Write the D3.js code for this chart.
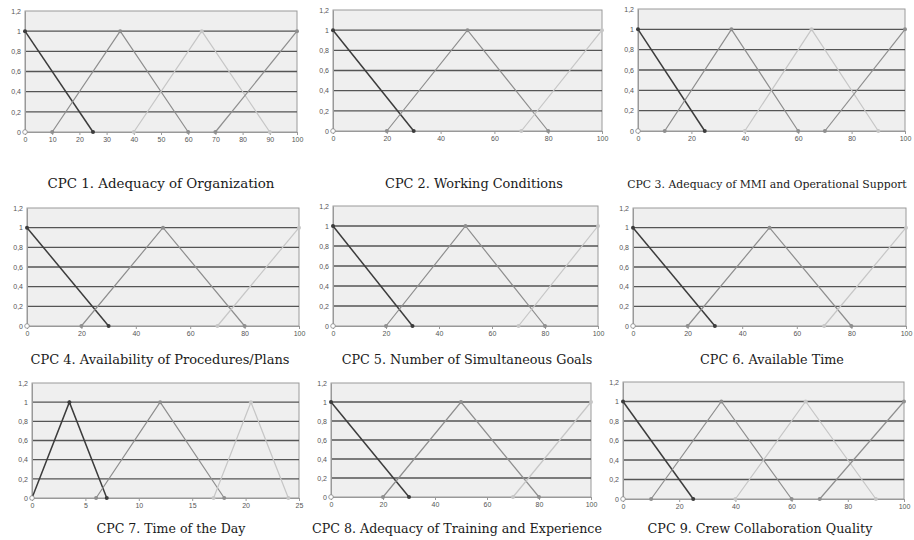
<!DOCTYPE html>
<html>
<head>
<meta charset="utf-8">
<script src="https://cdn.jsdelivr.net/npm/d3@7"></script>
<style>
  html, body { margin: 0; padding: 0; background: #fff; }
  svg { display: block; }
</style>
</head>
<body>
<svg id="chart" width="914" height="540"></svg>
<script>
// ---------------- DATA ----------------
const titles = [
  "CPC 1. Adequacy of Organization",
  "CPC 2. Working Conditions",
  "CPC 3. Adequacy of MMI and Operational Support",
  "CPC 4. Availability of Procedures/Plans",
  "CPC 5. Number of Simultaneous Goals",
  "CPC 6. Available Time",
  "CPC 7. Time of the Day",
  "CPC 8. Adequacy of Training and Experience",
  "CPC 9. Crew Collaboration Quality"
];
// which membership-function set each CPC uses
const panelSet = ["four", "three", "four", "three", "three", "three", "time", "three", "four"];
const xMaxValues = [100, 100, 100, 100, 100, 100, 25, 100, 100];
const xTickValues = {
  p1: [0, 10, 20, 30, 40, 50, 60, 70, 80, 90, 100],
  std: [0, 20, 40, 60, 80, 100],
  time: [0, 5, 10, 15, 20, 25]
};
const panelTicks = ["p1", "std", "std", "std", "std", "std", "time", "std", "std"];
const yTickValues = [0, 0.2, 0.4, 0.6, 0.8, 1, 1.2];

// four-level membership functions (CPC 1, 3, 9)
const fourLevelX = [[0, 25], [10, 35, 60], [40, 65, 90], [70, 100]];
const fourLevelY = [[1, 0], [0, 1, 0], [0, 1, 0], [0, 1]];
// three-level membership functions (CPC 2, 4, 5, 6, 8)
const threeLevelX = [[0, 30], [20, 50, 80], [70, 100]];
const threeLevelY = [[1, 0], [0, 1, 0], [0, 1]];
// time of the day (CPC 7)
const timeX = [[0, 3.5, 7], [6, 12, 18], [17, 20.5, 24]];
const timeY = [[0, 1, 0], [0, 1, 0], [0, 1, 0]];
// hollow origin marker
const originX = [0];
const originY = [0];

// ---------------- LAYOUT / STYLE ----------------
const layout = [
  {x0: 25,  x1: 297, y0: 11,  y1: 132},
  {x0: 333, x1: 602, y0: 10,  y1: 131},
  {x0: 638, x1: 905, y0: 9,   y1: 131},
  {x0: 27,  x1: 299, y0: 208, y1: 326},
  {x0: 333, x1: 598, y0: 206, y1: 326},
  {x0: 633, x1: 906, y0: 208, y1: 326},
  {x0: 32,  x1: 299, y0: 383, y1: 498},
  {x0: 331, x1: 591, y0: 383, y1: 497},
  {x0: 623, x1: 904, y0: 382, y1: 499}
];
const titlePos = [
  [161, 188], [474, 188], [767, 188],
  [160, 364], [467, 364], [772, 364],
  [171, 533], [457, 533], [760, 533]
];
const titleWidth = [227, 178, 280, 259, 251, 144, 149, 290, 225];
const setColors = {
  four:  ["#3c3c3c", "#8e8e8e", "#c6c6c6", "#8e8e8e"],
  three: ["#3c3c3c", "#8e8e8e", "#c6c6c6"],
  time:  ["#3c3c3c", "#8e8e8e", "#c6c6c6"]
};
const setData = {
  four:  [fourLevelX, fourLevelY],
  three: [threeLevelX, threeLevelY],
  time:  [timeX, timeY]
};

const svg = d3.select("#chart");
const fmt = v => String(+v.toFixed(1)).replace(".", ",");

titles.forEach((title, i) => {
  const L = layout[i];
  const x = d3.scaleLinear().domain([0, xMaxValues[i]]).range([L.x0, L.x1]);
  const y = d3.scaleLinear().domain([0, 1.2]).range([L.y1, L.y0]);
  const g = svg.append("g");

  // plot background
  g.append("rect")
    .attr("x", L.x0).attr("y", L.y0)
    .attr("width", L.x1 - L.x0).attr("height", L.y1 - L.y0)
    .attr("fill", "#efefef")
    .attr("stroke", "#9a9a9a").attr("stroke-width", 1);

  // horizontal grid lines
  g.selectAll(".grid").data(yTickValues.filter(v => v > 0 && v < 1.2)).enter()
    .append("line")
    .attr("x1", L.x0).attr("x2", L.x1)
    .attr("y1", d => y(d)).attr("y2", d => y(d))
    .attr("stroke", "#555").attr("stroke-width", 1.4);

  // y axis
  const yAxis = d3.axisLeft(y).tickValues(yTickValues).tickFormat(fmt).tickSize(0).tickPadding(4);
  const ya = g.append("g").attr("transform", `translate(${L.x0},0)`).call(yAxis);
  ya.select(".domain").attr("stroke", "#999");
  ya.selectAll("text").attr("font-family", "Liberation Sans, Arial, sans-serif")
    .attr("font-size", 7).attr("fill", "#555");

  // x axis
  const xAxis = d3.axisBottom(x).tickValues(xTickValues[panelTicks[i]]).tickSize(3).tickPadding(2);
  const xa = g.append("g").attr("transform", `translate(0,${L.y1})`).call(xAxis);
  xa.select(".domain").attr("stroke", "#999");
  xa.selectAll(".tick line").attr("stroke", "#999");
  xa.selectAll("text").attr("font-family", "Liberation Sans, Arial, sans-serif")
    .attr("font-size", 7).attr("fill", "#555");

  // membership functions
  const [sx, sy] = setData[panelSet[i]];
  const colors = setColors[panelSet[i]];
  const line = d3.line().x(d => x(d[0])).y(d => y(d[1]));
  sx.forEach((xs, k) => {
    const pts = xs.map((v, j) => [v, sy[k][j]]);
    g.append("path").datum(pts)
      .attr("d", line)
      .attr("fill", "none")
      .attr("stroke", colors[k])
      .attr("stroke-width", k === 0 ? 1.5 : 1.2);
    g.selectAll(null).data(pts).enter().append("circle")
      .attr("cx", d => x(d[0])).attr("cy", d => y(d[1]))
      .attr("r", 2)
      .attr("fill", colors[k]);
  });

  // hollow origin marker
  g.selectAll(null).data(originX.map((v, j) => [v, originY[j]])).enter()
    .append("circle")
    .attr("cx", d => x(d[0])).attr("cy", d => y(d[1]))
    .attr("r", 2.3)
    .attr("fill", "#fff").attr("stroke", "#888").attr("stroke-width", 0.8);

  // title
  const t = svg.append("text")
    .attr("x", titlePos[i][0]).attr("y", titlePos[i][1])
    .attr("text-anchor", "middle")
    .attr("font-family", "DejaVu Serif, serif")
    .attr("font-size", 13)
    .attr("fill", "#1a1a1a")
    .text(title);
  const natural = t.node().getComputedTextLength();
  if (natural > titleWidth[i]) {
    t.attr("font-size", 13 * titleWidth[i] / natural);
  } else {
    t.attr("textLength", titleWidth[i]).attr("lengthAdjust", "spacingAndGlyphs");
  }
});
</script>
</body>
</html>
